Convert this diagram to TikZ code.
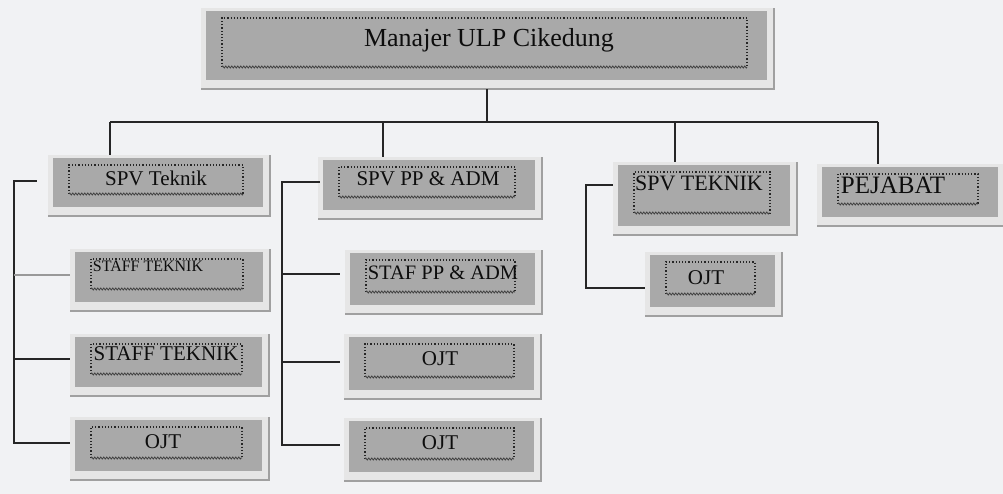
\documentclass[tikz,border=0pt]{standalone}
\usepackage{fontspec}
\setmainfont{Liberation Serif}
\usetikzlibrary{calc,fit,decorations.pathmorphing}
\definecolor{bg}{HTML}{F1F2F4}
\definecolor{boxgray}{HTML}{A9A9A9}
\definecolor{framec}{HTML}{E6E6E6}
\definecolor{shadowc}{HTML}{A0A0A0}
\tikzset{
  conn/.style={line width=2pt, draw=black!85},
  conngray/.style={line width=2pt, draw=black!40},
  boxbody/.style={fill=boxgray, inner sep=0pt, draw=none},
  dotrect/.style={dotted, line width=1.2pt, draw=black!85},
  wavy/.style={decorate, decoration={zigzag, amplitude=1pt, segment length=3pt}, line width=0.8pt, draw=black!75},
  lbl/.style={anchor=base, inner sep=0pt, text=black!95},
}
% #1 name, #2 x1, #3 y1, #4 x2, #5 y2, #6 text centre x, #7 baseline y, #8 text
\newcommand\obox[8]{%
  \fill[framec] (#2-5,#3-3) rectangle (#4+8,#5+10);
  \draw[shadowc, line width=2pt] (#2-5,#5+9) -- (#4+7,#5+9) -- (#4+7,#3-3);
  \coordinate (#1-nw) at (#2,#3);
  \coordinate (#1-se) at (#4,#5);
  \node[boxbody, fit=(#1-nw)(#1-se)] (#1) {};
  \draw[dotrect] (#2+16,#5-13) -- (#2+16,#3+7) -- (#4-20,#3+7) -- (#4-20,#5-13);
  \draw[wavy] (#2+16,#5-13) -- (#4-20,#5-13);
  \node[lbl] at (#6,#7) {#8};
}
\newcommand\fs[1]{\fontsize{#1}{#1}\selectfont}
\begin{document}
\begin{tikzpicture}[x=1pt,y=-1pt]
\fill[bg] (0,0) rectangle (1003,494);
\useasboundingbox (0,0) rectangle (1003,494);

% boxes
\obox{top}{206}{11}{767}{80}{489}{47}{\fs{26}Manajer ULP Cikedung}
\obox{spv1}{53}{158}{263}{207}{156}{186}{\fs{21}SPV Teknik}
\obox{st1}{75}{252}{263}{302}{148}{271}{\fs{16}STAFF TEKNIK}
\obox{st2}{75}{337}{262}{387}{166}{360}{\fs{21}STAFF TEKNIK}
\obox{ojt1}{75}{420}{262}{471}{163}{448}{\fs{21}OJT}
\obox{spv2}{323}{160}{535}{210}{428}{186}{\fs{21}SPV PP \& ADM}
\obox{st3}{350}{253}{535}{305}{443}{279}{\fs{20.5}STAF PP \& ADM}
\obox{ojt2}{349}{337}{534}{390}{440}{365}{\fs{21}OJT}
\obox{ojt3}{349}{421}{534}{472}{440}{449}{\fs{21}OJT}
\obox{spv3}{618}{165}{790}{226}{699}{191}{\fs{22}SPV TEKNIK}
\obox{ojt4}{650}{255}{775}{307}{706}{284}{\fs{21}OJT}
\obox{pej}{822}{167}{998}{217}{893}{194}{\fs{25}PEJABAT}

% top level bus
\coordinate (busL) at (110,122);
\coordinate (busR) at (878,122);
\coordinate (d2) at (383,122);
\coordinate (d3) at (675,122);
\draw[conn, shorten <=9pt] (top.south) -- (top.south |- busL);
\draw[conn] (busL) -- (busR);
\draw[conn, shorten >=3pt] (busL) -- (busL |- spv1.north);
\draw[conn, shorten >=3pt] (d2) -- (d2 |- spv2.north);
\draw[conn, shorten >=3pt] (d3) -- (d3 |- spv3.north);
\draw[conn, shorten >=3pt] (busR) -- (busR |- pej.north);

% left bracket
\coordinate (lx) at (14,0);
\path ($(spv1.west)+(-16,-1.5)$) coordinate (l0)
      ($(st1.west)+(-5,-2)$) coordinate (l1)
      ($(st2.west)+(-5,-3)$) coordinate (l2)
      ($(ojt1.west)+(-5,-3)$) coordinate (l3);
\draw[conn] (l0) -- (l0 -| lx) -- (l3 -| lx) -- (l3);
\draw[conngray] (l1 -| lx) -- (l1);
\draw[conn] (l2 -| lx) -- (l2);

% middle bracket
\coordinate (mx) at (282,0);
\path ($(spv2.west)+(-3,-3)$) coordinate (m0)
      ($(st3.west)+(-10,-5)$) coordinate (m1)
      ($(ojt2.west)+(-9,-2)$) coordinate (m2)
      ($(ojt3.west)+(-9,-2)$) coordinate (m3);
\draw[conn] (m0) -- (m0 -| mx) -- (m3 -| mx) -- (m3);
\draw[conn] (m1 -| mx) -- (m1);
\draw[conn] (m2 -| mx) -- (m2);

% right bracket
\coordinate (rx) at (586,0);
\path ($(spv3.west)+(-5,-10)$) coordinate (r0)
      ($(ojt4.west)+(-5,7)$) coordinate (r1);
\draw[conn] (r0) -- (r0 -| rx) -- (r1 -| rx) -- (r1);
\end{tikzpicture}
\end{document}
